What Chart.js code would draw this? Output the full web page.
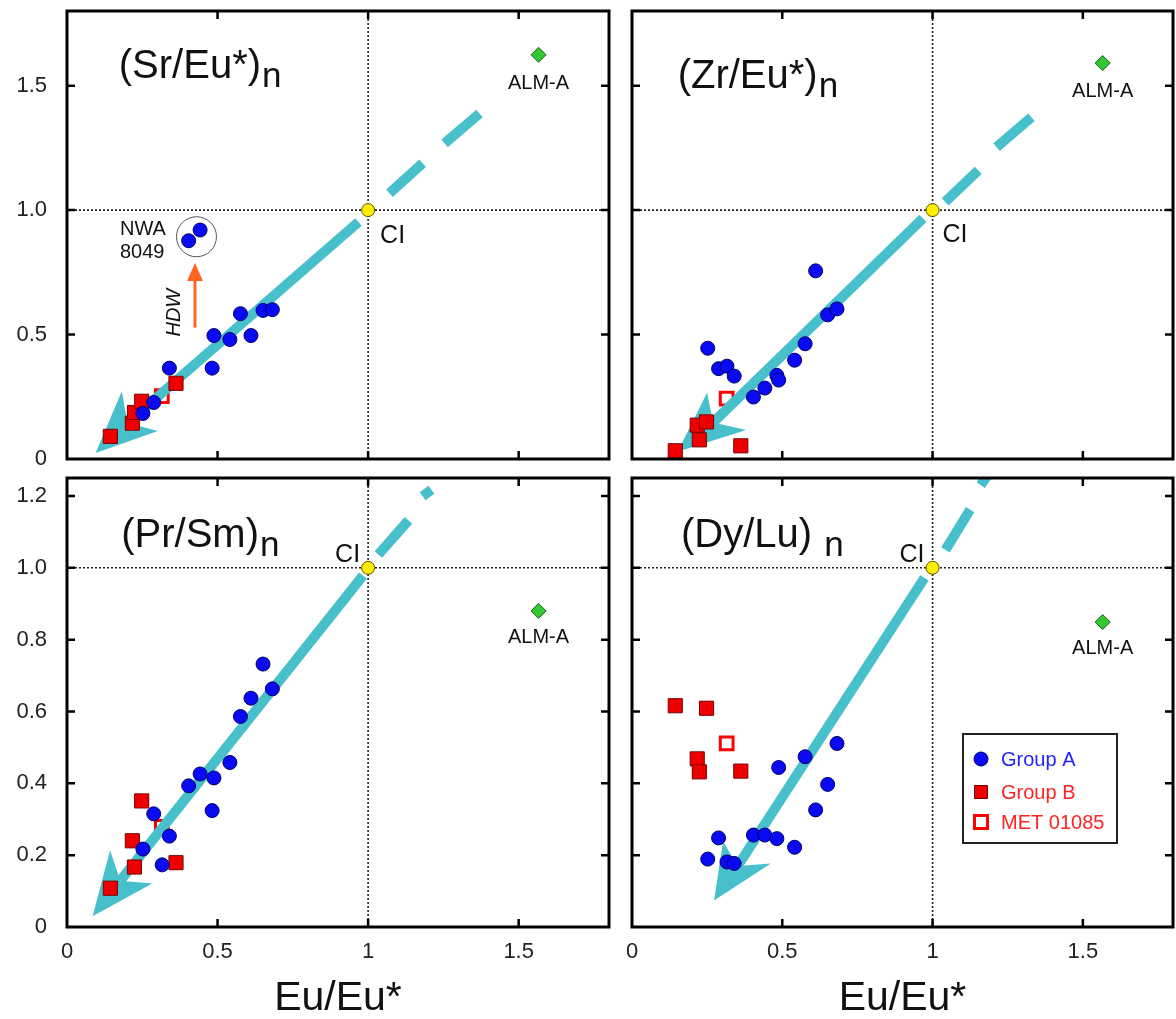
<!DOCTYPE html>
<html>
<head>
<meta charset="utf-8">
<title>Eu/Eu* ratios</title>
<script src="https://cdn.jsdelivr.net/npm/chart.js@4.4.1/dist/chart.umd.min.js"></script>
<style>
  body { margin: 0; background: #fff; }
  #wrap { position: relative; width: 1176px; height: 1019px; overflow: hidden; }
  #wrap canvas { position: absolute; }
</style>
</head>
<body>
<div id="wrap">
  <canvas id="c1" width="620" height="490" style="left:0px;top:0px"></canvas>
  <canvas id="c2" width="556" height="490" style="left:620px;top:0px"></canvas>
  <canvas id="c3" width="620" height="549" style="left:0px;top:470px"></canvas>
  <canvas id="c4" width="556" height="549" style="left:620px;top:470px"></canvas>
</div>
<script>
const FONT = "'Liberation Sans', Arial, Helvetica, sans-serif";
Chart.defaults.font.family = FONT;

// Eu/Eu* of each sample (x in every panel)
const euGroupA = [0.252, 0.288, 0.316, 0.340, 0.404, 0.442, 0.482, 0.488, 0.541, 0.576, 0.611, 0.651, 0.682];
const euGroupB = [0.144, 0.217, 0.224, 0.248, 0.362];
const euMet = [0.315];
const euAlm = [1.566];
const euCI = [1.0];

// (Sr/Eu*)n
const srGroupA = [0.183, 0.227, null, 0.365, 0.877, 0.920, 0.365, 0.496, 0.480, 0.584, 0.496, 0.597, 0.600];
const srGroupB = [0.091, 0.144, 0.187, 0.232, 0.304];
const srMet = [0.253];
const srAlm = [1.624];

// (Zr/Eu*)n
const zrGroupA = [0.445, 0.363, 0.373, 0.333, 0.249, 0.285, 0.336, 0.317, 0.397, 0.463, 0.756, 0.579, 0.603];
const zrGroupB = [0.033, 0.136, 0.077, 0.149, 0.053];
const zrMet = [0.243];
const zrAlm = [1.591];

// (Pr/Sm)n
const prGroupA = [0.217, 0.315, 0.173, 0.253, 0.393, 0.426, 0.324, 0.415, 0.458, 0.586, 0.637, 0.732, 0.663];
const prGroupB = [0.108, 0.240, 0.167, 0.351, 0.179];
const prMet = [0.279];
const prAlm = [0.880];

// (Dy/Lu)n
const dyGroupA = [0.189, 0.248, 0.181, 0.177, 0.256, 0.256, 0.246, 0.444, 0.222, 0.474, 0.326, 0.397, 0.511];
const dyGroupB = [0.616, 0.468, 0.432, 0.609, 0.434];
const dyMet = [0.511];
const dyAlm = [0.849];

const ciRatio = [1.0];

const xTicks = [0, 0.5, 1, 1.5];
const yTicksUpper = [0, 0.5, 1.0, 1.5];
const yTicksLower = [0, 0.2, 0.4, 0.6, 0.8, 1.0, 1.2];
const legendLabels = ['Group A', 'Group B', 'MET 01085'];

const CYAN = '#48c0cc';
const ORANGE = '#ff6420';

const panels = [
  { id: 'c1', title: '(Sr/Eu*)', a: srGroupA, b: srGroupB, met: srMet, alm: srAlm,
    yMax: 1.8, yTicks: yTicksUpper, left: true, bottom: false,
    titleAt: [0.172, 1.53], ci: { dx: 12, dy: 33, align: 'left' }, almDy: 34,
    arrow: { tip: [0.095, 0.024], barbs: [[0.182, 0.272], [0.302, 0.112]], tail: [0.968, 0.952],
             dashes: [[[1.071, 1.068], [1.181, 1.188]], [[1.254, 1.268], [1.370, 1.388]]] },
    nwa: true },
  { id: 'c2', title: '(Zr/Eu*)', a: zrGroupA, b: zrGroupB, met: zrMet, alm: zrAlm,
    yMax: 1.8, yTicks: yTicksUpper, left: false, bottom: false,
    titleAt: [0.152, 1.49], ci: { dx: 10, dy: 32, align: 'left' }, almDy: 34,
    arrow: { tip: [0.152, 0.029], barbs: [[0.250, 0.267], [0.380, 0.117]], tail: [0.968, 0.967],
             dashes: [[[1.042, 1.033], [1.152, 1.160]], [[1.213, 1.253], [1.329, 1.373]]] } },
  { id: 'c3', title: '(Pr/Sm)', a: prGroupA, b: prGroupB, met: prMet, alm: prAlm,
    yMax: 1.25, yTicks: yTicksLower, left: true, bottom: true,
    titleAt: [0.18, 1.057], ci: { dx: -8, dy: -6, align: 'right' }, almDy: 32,
    arrow: { tip: [0.085, 0.030], barbs: [[0.143, 0.214], [0.283, 0.121]], tail: [0.983, 0.978],
             dashes: [[[1.034, 1.037], [1.134, 1.132]], [[1.181, 1.199], [1.210, 1.217]]] } },
  { id: 'c4', title: '(Dy/Lu) ', a: dyGroupA, b: dyGroupB, met: dyMet, alm: dyAlm,
    yMax: 1.25, yTicks: yTicksLower, left: false, bottom: true,
    titleAt: [0.163, 1.057], ci: { dx: -8, dy: -6, align: 'right' }, almDy: 32,
    arrow: { tip: [0.273, 0.074], barbs: [[0.303, 0.238], [0.462, 0.177]], tail: [0.973, 0.972],
             dashes: [[[1.043, 1.050], [1.125, 1.162]], [[1.160, 1.230], [1.185, 1.260]]] },
    legend: true }
];

function pts(xs, ys) {
  return xs.map((x, i) => ({ x: x, y: ys[i] }));
}

function drawRefLines(chart) {
  const { ctx, chartArea: ca, scales: { x, y } } = chart;
  const px = x.getPixelForValue(euCI[0]), py = y.getPixelForValue(ciRatio[0]);
  ctx.save();
  ctx.strokeStyle = '#222';
  ctx.lineWidth = 1.6;
  ctx.setLineDash([2, 2]);
  ctx.beginPath();
  ctx.moveTo(px, ca.top); ctx.lineTo(px, ca.bottom);
  ctx.moveTo(ca.left, py); ctx.lineTo(ca.right, py);
  ctx.stroke();
  ctx.restore();
}

// thick cyan trend arrow (solid below CI, dashed above)
function drawTrend(chart, a) {
  const { ctx, chartArea: ca, scales: { x, y } } = chart;
  const P = p => [x.getPixelForValue(p[0]), y.getPixelForValue(p[1])];
  const tip = P(a.tip), b1 = P(a.barbs[0]), b2 = P(a.barbs[1]), tail = P(a.tail);
  const mid = [(b1[0] + b2[0]) / 2, (b1[1] + b2[1]) / 2];
  const notch = [tip[0] + 0.72 * (mid[0] - tip[0]), tip[1] + 0.72 * (mid[1] - tip[1])];
  ctx.save();
  ctx.beginPath();
  ctx.rect(ca.left, ca.top, ca.right - ca.left, ca.bottom - ca.top);
  ctx.clip();
  ctx.strokeStyle = CYAN;
  ctx.fillStyle = CYAN;
  ctx.lineWidth = 10;
  ctx.lineCap = 'butt';
  ctx.beginPath();
  ctx.moveTo(tail[0], tail[1]);
  ctx.lineTo(notch[0], notch[1]);
  ctx.stroke();
  a.dashes.forEach(d => {
    const p = P(d[0]), q = P(d[1]);
    ctx.beginPath();
    ctx.moveTo(p[0], p[1]);
    ctx.lineTo(q[0], q[1]);
    ctx.stroke();
  });
  ctx.beginPath();
  ctx.moveTo(tip[0], tip[1]);
  ctx.lineTo(b1[0], b1[1]);
  ctx.lineTo(notch[0], notch[1]);
  ctx.lineTo(b2[0], b2[1]);
  ctx.closePath();
  ctx.fill();
  ctx.restore();
}

function drawFrame(chart, p) {
  const { ctx, chartArea: ca, scales: { x, y } } = chart;
  ctx.save();
  ctx.strokeStyle = '#000';
  ctx.lineWidth = 2.5;
  ctx.beginPath();
  xTicks.forEach(v => {
    if (v <= x.min || v >= x.max) return;
    const px = x.getPixelForValue(v);
    ctx.moveTo(px, ca.bottom); ctx.lineTo(px, ca.bottom - 8);
    ctx.moveTo(px, ca.top); ctx.lineTo(px, ca.top + 8);
  });
  p.yTicks.forEach(v => {
    if (v <= y.min || v >= y.max) return;
    const py = y.getPixelForValue(v);
    ctx.moveTo(ca.left, py); ctx.lineTo(ca.left + 8, py);
    ctx.moveTo(ca.right, py); ctx.lineTo(ca.right - 8, py);
  });
  ctx.stroke();
  ctx.lineWidth = 3;
  ctx.strokeRect(ca.left, ca.top, ca.right - ca.left, ca.bottom - ca.top);
  ctx.restore();
}

function drawLabels(chart, p) {
  const { ctx, scales: { x, y } } = chart;
  ctx.save();
  ctx.fillStyle = '#111';
  ctx.textBaseline = 'alphabetic';
  // panel title with subscript n
  const tx = x.getPixelForValue(p.titleAt[0]), ty = y.getPixelForValue(p.titleAt[1]);
  ctx.font = '40px ' + FONT;
  ctx.textAlign = 'left';
  ctx.fillText(p.title, tx, ty);
  const w = ctx.measureText(p.title).width;
  ctx.font = '35px ' + FONT;
  ctx.fillText('n', tx + w + 1, ty + 9);
  // CI
  const cx = x.getPixelForValue(euCI[0]), cy = y.getPixelForValue(ciRatio[0]);
  ctx.font = '25px ' + FONT;
  ctx.textAlign = p.ci.align;
  ctx.fillText('CI', cx + p.ci.dx, cy + p.ci.dy);
  // ALM-A
  ctx.font = '20px ' + FONT;
  ctx.textAlign = 'center';
  ctx.fillText('ALM-A', x.getPixelForValue(euAlm[0]), y.getPixelForValue(p.alm[0]) + p.almDy);
  ctx.restore();
}

function drawNwa(chart) {
  const { ctx, scales: { x, y } } = chart;
  const X = v => x.getPixelForValue(v), Y = v => y.getPixelForValue(v);
  ctx.save();
  ctx.strokeStyle = '#555';
  ctx.lineWidth = 1;
  ctx.beginPath();
  ctx.arc(X(0.43), Y(0.893), 20, 0, Math.PI * 2);
  ctx.stroke();
  ctx.fillStyle = '#111';
  ctx.font = '20px ' + FONT;
  ctx.textAlign = 'left';
  ctx.fillText('NWA', X(0.176), Y(0.90));
  ctx.fillText('8049', X(0.176), Y(0.808));
  // HDW arrow
  const ox = X(0.425), y0 = Y(0.528), y1 = Y(0.788);
  ctx.strokeStyle = ORANGE;
  ctx.fillStyle = ORANGE;
  ctx.lineWidth = 3;
  ctx.beginPath();
  ctx.moveTo(ox, y0); ctx.lineTo(ox, y1 + 14);
  ctx.stroke();
  ctx.beginPath();
  ctx.moveTo(ox, y1); ctx.lineTo(ox - 8, y1 + 18); ctx.lineTo(ox + 8, y1 + 18);
  ctx.closePath();
  ctx.fill();
  ctx.translate(X(0.358), Y(0.588));
  ctx.rotate(-Math.PI / 2);
  ctx.font = 'italic 20px ' + FONT;
  ctx.textAlign = 'center';
  ctx.textBaseline = 'middle';
  ctx.fillStyle = '#111';
  ctx.fillText('HDW', 0, 0);
  ctx.restore();
}

function drawLegend(chart) {
  const { ctx, chartArea: ca } = chart;
  const bx = ca.left + 331, by = ca.top + 256, bw = 154, bh = 109;
  const rows = [25, 58, 88];
  const textColors = ['#2424ff', '#ff2424', '#ff2424'];
  ctx.save();
  ctx.fillStyle = '#fff';
  ctx.fillRect(bx, by, bw, bh);
  ctx.strokeStyle = '#222';
  ctx.lineWidth = 2;
  ctx.strokeRect(bx, by, bw, bh);
  legendLabels.forEach((label, i) => {
    const ds = chart.data.datasets[i];
    const mx = bx + 18, my = by + rows[i];
    ctx.fillStyle = ds.backgroundColor;
    ctx.strokeStyle = ds.borderColor;
    ctx.lineWidth = ds.borderWidth;
    ctx.beginPath();
    if (ds.pointStyle === 'circle') ctx.arc(mx, my, 7, 0, Math.PI * 2);
    else ctx.rect(mx - 6.5, my - 6.5, 13, 13);
    ctx.fill();
    ctx.stroke();
    ctx.fillStyle = textColors[i];
    ctx.font = '20px ' + FONT;
    ctx.textAlign = 'left';
    ctx.textBaseline = 'middle';
    ctx.fillText(label, bx + 38, my + 1);
  });
  ctx.restore();
}

function decor(p) {
  return {
    id: 'decor_' + p.id,
    beforeDatasetsDraw(chart) { drawRefLines(chart); },
    beforeDatasetDraw(chart, args) { if (args.index === 1) drawTrend(chart, p.arrow); },
    afterDatasetsDraw(chart) {
      drawFrame(chart, p);
      drawLabels(chart, p);
      if (p.nwa) drawNwa(chart);
      if (p.legend) drawLegend(chart);
    }
  };
}

panels.forEach(p => {
  new Chart(document.getElementById(p.id), {
    type: 'scatter',
    data: {
      datasets: [
        { label: legendLabels[0], data: pts(euGroupA, p.a), pointStyle: 'circle', pointRadius: 7,
          backgroundColor: '#0a0af2', borderColor: '#00006a', borderWidth: 1, clip: false },
        { label: legendLabels[1], data: pts(euGroupB, p.b), pointStyle: 'rect', pointRadius: 10,
          backgroundColor: '#ee0000', borderColor: '#7a0000', borderWidth: 1, clip: false },
        { label: legendLabels[2], data: pts(euMet, p.met), pointStyle: 'rect', pointRadius: 9,
          backgroundColor: '#ffffff', borderColor: '#ff0000', borderWidth: 3, clip: false },
        { label: 'ALM-A', data: pts(euAlm, p.alm), pointStyle: 'rectRot', pointRadius: 7.5,
          backgroundColor: '#33c833', borderColor: '#1d5a1d', borderWidth: 1, clip: false },
        { label: 'CI', data: pts(euCI, ciRatio), pointStyle: 'circle', pointRadius: 6.5,
          backgroundColor: '#ffee00', borderColor: '#5a5500', borderWidth: 1, clip: false }
      ]
    },
    options: {
      responsive: false,
      animation: false,
      events: [],
      layout: {
        autoPadding: false,
        padding: {
          left: p.left ? 0 : 12,
          right: p.left ? 11 : 3,
          top: p.bottom ? 8 : 11,
          bottom: p.bottom ? 0 : 31
        }
      },
      plugins: { legend: { display: false }, tooltip: { enabled: false } },
      scales: {
        x: {
          type: 'linear', min: 0, max: 1.8, display: p.bottom,
          afterBuildTicks: s => { s.ticks = xTicks.map(v => ({ value: v })); },
          afterFit: s => {
            s.height = p.bottom ? 92 : 0;
            s.paddingLeft = 0;
            s.paddingRight = 0;
          },
          grid: { display: false, drawTicks: false },
          border: { display: false },
          ticks: { padding: 12, color: '#222', font: { size: 22 }, autoSkip: false, maxRotation: 0,
                   callback: v => String(v) },
          title: { display: true, text: 'Eu/Eu*', color: '#111', font: { size: 41, lineHeight: 1 },
                   padding: { top: 0, bottom: 0 } }
        },
        y: {
          type: 'linear', min: 0, max: p.yMax, display: p.left,
          afterBuildTicks: s => { s.ticks = p.yTicks.map(v => ({ value: v })); },
          afterFit: s => {
            s.width = p.left ? 67 : 0;
            s.paddingTop = 0;
            s.paddingBottom = 0;
          },
          grid: { display: false, drawTicks: false },
          border: { display: false },
          ticks: { padding: 20, color: '#222', font: { size: 22 }, autoSkip: false,
                   callback: v => (v === 0 ? '0' : v.toFixed(1)) }
        }
      }
    },
    plugins: [decor(p)]
  });
});
</script>
</body>
</html>
